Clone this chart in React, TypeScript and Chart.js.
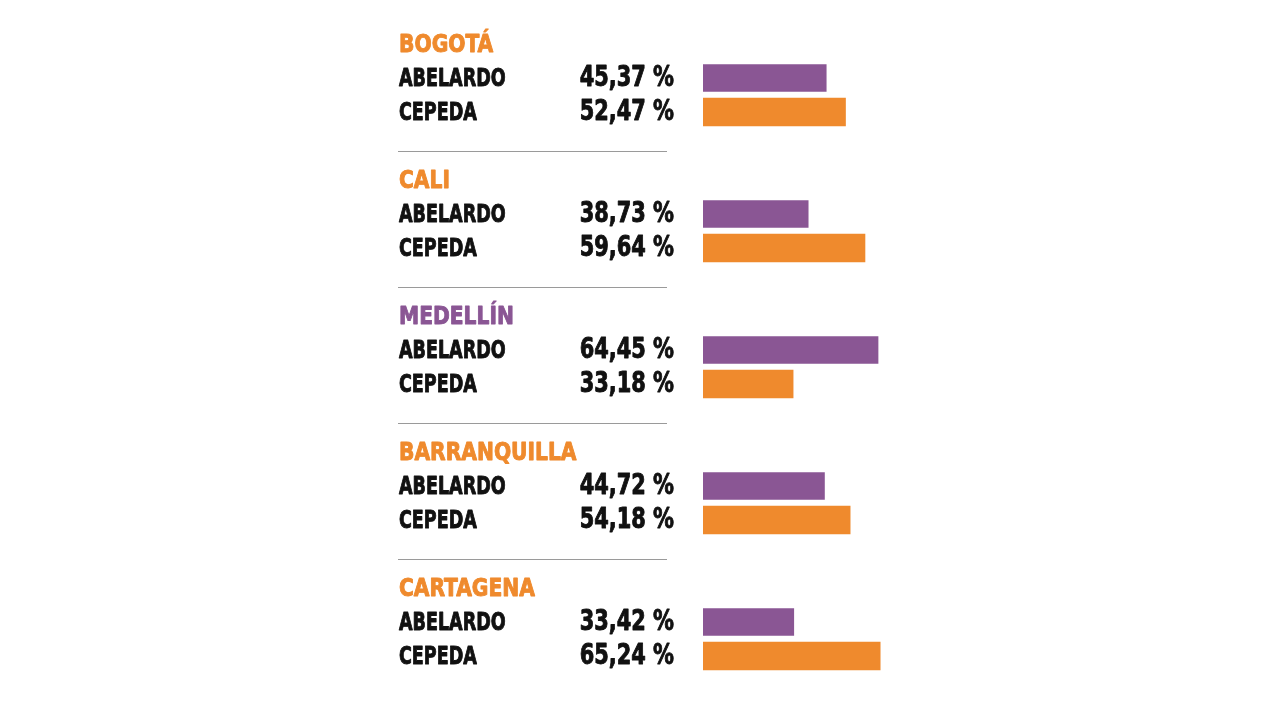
import React, { useEffect, useRef } from "react";
import { Chart, registerables } from "chart.js";

Chart.register(...registerables);

// Results per city: Abelardo vs. Cepeda (percent of valid votes)
const cities = ["BOGOTÁ", "CALI", "MEDELLÍN", "BARRANQUILLA", "CARTAGENA"];
const cityWinner = ["cepeda", "cepeda", "abelardo", "cepeda", "cepeda"];
const candidates = ["ABELARDO", "CEPEDA"];
const abelardo = [45.37, 38.73, 64.45, 44.72, 33.42];
const cepeda = [52.47, 59.64, 33.18, 54.18, 65.24];

const PURPLE = "#8a5694";
const ORANGE = "#ef8a2d";
const FONT = '"DejaVu Sans Condensed", "DejaVu Sans", sans-serif';

// Each city block uses four rows: title, Abelardo, Cepeda, separator
const ROWS_PER_CITY = 4;
const rowCount = cities.length * ROWS_PER_CITY - 1;
const rowLabels = Array.from({ length: rowCount }, (_, i) => `r${i}`);
const abelardoRows: (number | null)[] = rowLabels.map(() => null);
const cepedaRows: (number | null)[] = rowLabels.map(() => null);
cities.forEach((_, c) => {
  abelardoRows[c * ROWS_PER_CITY + 1] = abelardo[c];
  cepedaRows[c * ROWS_PER_CITY + 2] = cepeda[c];
});

const fmt = (v: number) => v.toFixed(2).replace(".", ",") + " %";

// Draws heavy, horizontally condensed text
function condensed(
  ctx: CanvasRenderingContext2D,
  text: string,
  x: number,
  y: number,
  size: number,
  squeeze: number,
  color: string,
  align: CanvasTextAlign
) {
  ctx.save();
  ctx.translate(x, y);
  ctx.scale(squeeze, 1);
  ctx.font = `bold ${size}px ${FONT}`;
  ctx.textAlign = align;
  ctx.textBaseline = "middle";
  ctx.fillStyle = color;
  ctx.strokeStyle = color;
  ctx.lineWidth = 0.9;
  ctx.lineJoin = "round";
  ctx.fillText(text, 0, 0);
  ctx.strokeText(text, 0, 0);
  ctx.restore();
}

const textPlugin = {
  id: "cityText",
  afterDraw(chart: any) {
    const ctx = chart.ctx as CanvasRenderingContext2D;
    const y = chart.scales.y;
    cities.forEach((city, c) => {
      const base = c * ROWS_PER_CITY;
      const titleColor = cityWinner[c] === "abelardo" ? PURPLE : ORANGE;
      condensed(ctx, city, 399, y.getPixelForValue(base) + 1, 25, 0.9, titleColor, "left");
      const vals = [abelardo[c], cepeda[c]];
      candidates.forEach((name, k) => {
        const py = y.getPixelForValue(base + 1 + k) + 1;
        condensed(ctx, name, 399, py, 25, 0.78, "#111111", "left");
        condensed(ctx, fmt(vals[k]), 674, py, 28, 0.83, "#111111", "right");
      });
      // separator between cities
      if (c < cities.length - 1) {
        const sy = Math.round(y.getPixelForValue(base + 3) + 5) + 0.5;
        ctx.save();
        ctx.strokeStyle = "#9a9a9a";
        ctx.lineWidth = 1;
        ctx.beginPath();
        ctx.moveTo(398, sy);
        ctx.lineTo(667, sy);
        ctx.stroke();
        ctx.restore();
      }
    });
  },
};

export default function App() {
  const ref = useRef<HTMLCanvasElement | null>(null);

  useEffect(() => {
    if (!ref.current) return;
    const chart = new Chart(ref.current, {
      type: "bar",
      data: {
        labels: rowLabels,
        datasets: [
          {
            label: candidates[0],
            data: abelardoRows,
            backgroundColor: PURPLE,
            barThickness: 27,
            grouped: false,
          },
          {
            label: candidates[1],
            data: cepedaRows,
            backgroundColor: ORANGE,
            barThickness: 28,
            grouped: false,
          },
        ],
      } as any,
      options: {
        indexAxis: "y",
        responsive: false,
        animation: false,
        layout: { padding: { left: 703, right: 305.4, top: 27, bottom: 47 } },
        scales: {
          x: { display: false, min: 0, max: 100 },
          y: { display: false, offset: true, grid: { display: false } },
        },
        plugins: {
          legend: { display: false },
          tooltip: { enabled: false },
        },
      },
      plugins: [textPlugin],
    });
    return () => chart.destroy();
  }, []);

  return (
    <div style={{ position: "fixed", left: 0, top: 0, width: 1280, height: 720, background: "#ffffff" }}>
      <canvas ref={ref} width={1280} height={720} style={{ display: "block" }} />
    </div>
  );
}
